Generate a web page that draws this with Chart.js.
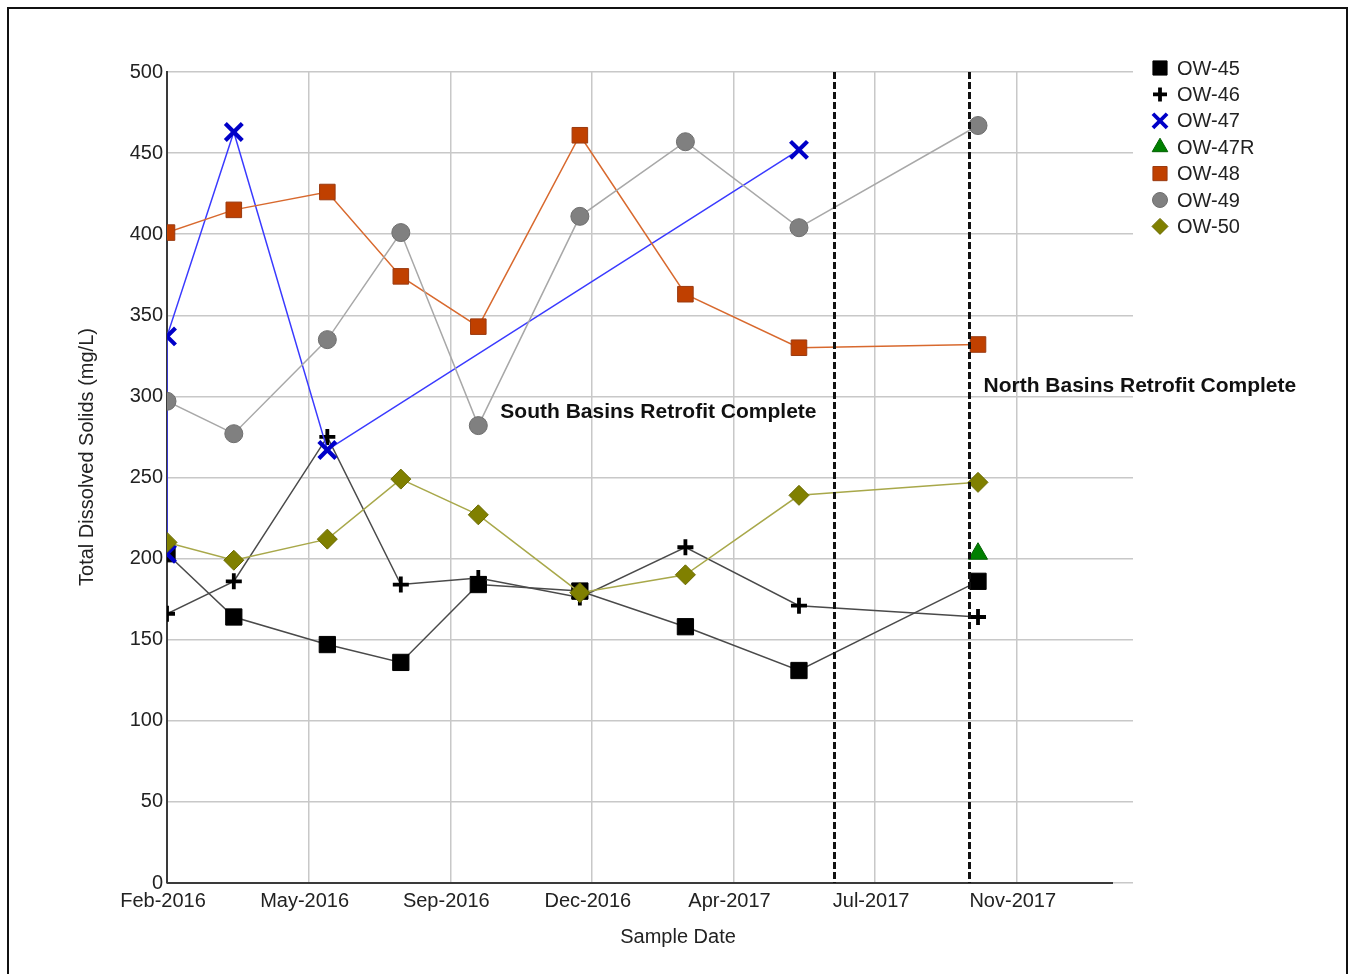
<!DOCTYPE html>
<html>
<head>
<meta charset="utf-8">
<title>Total Dissolved Solids</title>
<script src="https://cdn.jsdelivr.net/npm/chart.js@4.4.1/dist/chart.umd.min.js"></script>
<style>
  html, body { margin: 0; padding: 0; background: #fff; }
  #wrap { position: relative; width: 1349px; height: 974px; overflow: hidden; }
  #frame { position: absolute; left: 7px; top: 7px; width: 1341px; height: 990px;
           border: 2px solid #111; box-sizing: border-box; pointer-events: none; }
  canvas { position: absolute; left: 0; top: 0; }
</style>
</head>
<body>
<div id="wrap">
  <canvas id="tds" width="1349" height="974"></canvas>
  <div id="frame"></div>
</div>
<script>
// Sampling events (well network sampling rounds)
const sampleDates = ['2016-02-01', '2016-03-22', '2016-05-31', '2016-07-25', '2016-09-21',
                     '2016-12-06', '2017-02-23', '2017-05-19', '2017-09-30'];

// Total dissolved solids, mg/L, one value per sampling round (null = not sampled)
const ow45 = [203, 164, 147, 136, 184, 180, 158, 131, 186];
const ow46 = [166, 186, 275, 184, 188, 176, 207, 171, 164];
const ow48 = [401, 415, 426, 374, 343, 461, 363, 330, 332];
const ow49 = [297, 277, 335, 401, 282, 411, 457, 404, 467];
const ow50 = [210, 199, 212, 249, 227, 179, 190, 239, 247];

// OW-47 was sampled twice in the first round, then replaced by OW-47R
const ow47Dates = ['2016-02-01', '2016-02-01', '2016-03-22', '2016-05-31', '2017-05-19'];
const ow47 = [203, 337, 463, 267, 452];
const ow47rDates = ['2017-09-30'];
const ow47r = [203];

// Construction milestones
const retrofitDates = ['2017-06-14', '2017-09-23'];
const retrofitLabels = ['South Basins Retrofit Complete', 'North Basins Retrofit Complete'];
const retrofitLabelLevels = [290, 306];
const retrofitLabelSide = ['left', 'right'];

// Axis ticks
const xTickLabels = ['Feb-2016', 'May-2016', 'Sep-2016', 'Dec-2016', 'Apr-2017', 'Jul-2017', 'Nov-2017'];
const xTickStepDays = 106;
const xAxisMaxDays = 723;
const yMin = 0, yMax = 500, yStep = 50;

// Day numbers counted from the first tick (1 Feb 2016)
const DAY0 = Date.UTC(2016, 1, 1);
function dayNum(s) {
  const [y, m, d] = s.split('-').map(Number);
  return (Date.UTC(y, m - 1, d) - DAY0) / 86400000;
}
function toPoints(dates, vals) {
  const out = [];
  dates.forEach((d, i) => { if (vals[i] != null) out.push({ x: dayNum(d), y: vals[i] }); });
  return out;
}

const FONT = '"Liberation Sans", Arial, Helvetica, sans-serif';
const TEXT = '#222';

const seriesDefs = [
  { label: 'OW-45',  dates: sampleDates, vals: ow45,  line: '#4a4a4a', fill: '#000000', border: '#000000', style: 'rect',     r: 11.5, bw: 1,   lr: 10 },
  { label: 'OW-46',  dates: sampleDates, vals: ow46,  line: '#4a4a4a', fill: '#000000', border: '#000000', style: 'cross',    r: 8,    bw: 3.8, lr: 7 },
  { label: 'OW-47',  dates: ow47Dates,   vals: ow47,  line: '#3a3aff', fill: '#0000e8', border: '#0000c8', style: 'crossRot', r: 12,   bw: 4.2, lr: 10 },
  { label: 'OW-47R', dates: ow47rDates,  vals: ow47r, line: '#008000', fill: '#008000', border: '#006000', style: 'triangle', r: 11,   bw: 1,   lr: 9 },
  { label: 'OW-48',  dates: sampleDates, vals: ow48,  line: '#d8692e', fill: '#c04000', border: '#9a3a10', style: 'rect',     r: 11,   bw: 1,   lr: 10 },
  { label: 'OW-49',  dates: sampleDates, vals: ow49,  line: '#a8a8a8', fill: '#808080', border: '#6e6e6e', style: 'circle',   r: 9,    bw: 1,   lr: 7.5 },
  { label: 'OW-50',  dates: sampleDates, vals: ow50,  line: '#a8a84a', fill: '#808000', border: '#6a6a00', style: 'rectRot',  r: 10,   bw: 1,   lr: 8 }
];

const datasets = seriesDefs.map((s, i) => ({
  label: s.label,
  data: toPoints(s.dates, s.vals),
  borderColor: s.line,
  borderWidth: 1.5,
  pointStyle: s.style,
  pointRadius: s.r,
  pointHoverRadius: s.r,
  pointBackgroundColor: s.fill,
  pointBorderColor: s.border,
  pointBorderWidth: s.bw,
  tension: 0,
  fill: false,
  order: seriesDefs.length - i,
  clip: { left: 0, top: 20, right: 20, bottom: 20 }
}));

const overlay = {
  id: 'overlay',
  afterDatasetsDraw(chart) {
    const { ctx, chartArea: a, scales: { x, y } } = chart;
    ctx.save();

    // x axis line (stops short of the grid's right edge)
    ctx.strokeStyle = '#3a3a3a';
    ctx.lineWidth = 2;
    ctx.beginPath();
    ctx.moveTo(a.left, a.bottom);
    ctx.lineTo(a.right - 20, a.bottom);
    ctx.stroke();

    // retrofit milestones: dashed verticals with labels
    retrofitDates.forEach((d, i) => {
      const px = Math.round(x.getPixelForValue(dayNum(d))) + 0.5;
      ctx.strokeStyle = '#111';
      ctx.lineWidth = 3;
      ctx.setLineDash([7, 3]);
      ctx.beginPath();
      ctx.moveTo(px, a.top);
      ctx.lineTo(px, a.bottom);
      ctx.stroke();
      ctx.setLineDash([]);

      ctx.font = 'bold 21px ' + FONT;
      ctx.fillStyle = '#111';
      ctx.textBaseline = 'middle';
      const py = y.getPixelForValue(retrofitLabelLevels[i]);
      if (retrofitLabelSide[i] === 'left') {
        ctx.textAlign = 'right';
        ctx.fillText(retrofitLabels[i], px - 18, py);
      } else {
        ctx.textAlign = 'left';
        ctx.fillText(retrofitLabels[i], px + 14, py);
      }
    });

    // axis titles
    ctx.fillStyle = TEXT;
    ctx.font = '20px ' + FONT;
    ctx.textAlign = 'center';
    ctx.textBaseline = 'middle';
    ctx.fillText('Sample Date', a.left + 511, a.bottom + 54);
    ctx.save();
    ctx.translate(87, a.top + 385);
    ctx.rotate(-Math.PI / 2);
    ctx.fillText('Total Dissolved Solids (mg/L)', 0, 0);
    ctx.restore();

    // legend
    const lx = a.right + 27, ly = 68, step = 26.4;
    seriesDefs.forEach((s, i) => {
      const cy = ly + i * step;
      ctx.fillStyle = s.fill;
      ctx.strokeStyle = s.border;
      ctx.lineWidth = (s.style === 'cross' || s.style === 'crossRot') ? 3.8 : 1;
      Chart.helpers.drawPoint(ctx, { pointStyle: s.style, radius: s.lr, rotation: 0, borderWidth: ctx.lineWidth }, lx, cy);
      ctx.fillStyle = TEXT;
      ctx.font = '20px ' + FONT;
      ctx.textAlign = 'left';
      ctx.textBaseline = 'middle';
      ctx.fillText(s.label, lx + 17, cy + 1);
    });

    ctx.restore();
  }
};

new Chart(document.getElementById('tds'), {
  type: 'line',
  data: { datasets },
  options: {
    responsive: false,
    maintainAspectRatio: false,
    devicePixelRatio: 1,
    animation: false,
    events: [],
    layout: { padding: { top: 72, right: 216, left: 0, bottom: 0 } },
    plugins: { legend: { display: false }, tooltip: { enabled: false } },
    scales: {
      x: {
        type: 'linear',
        min: 0,
        max: xAxisMaxDays,
        afterFit(s) { s.height = 91; },
        afterBuildTicks(s) {
          s.ticks = xTickLabels.map((_, i) => ({ value: i * xTickStepDays }));
        },
        border: { display: false },
        grid: { color: '#c8c8c8', lineWidth: 1.5, drawTicks: false },
        ticks: {
          autoSkip: false,
          maxRotation: 0,
          padding: 6,
          labelOffset: -4,
          color: TEXT,
          font: { family: FONT, size: 20 },
          callback(v, i) { return xTickLabels[i]; }
        }
      },
      y: {
        min: yMin,
        max: yMax,
        afterFit(s) { s.width = 167; },
        border: { display: true, color: '#3a3a3a', width: 2 },
        grid: { color: '#c8c8c8', lineWidth: 1.5, drawTicks: false },
        ticks: {
          stepSize: yStep,
          padding: 4,
          color: TEXT,
          font: { family: FONT, size: 20 }
        }
      }
    }
  },
  plugins: [overlay]
});
</script>
</body>
</html>
